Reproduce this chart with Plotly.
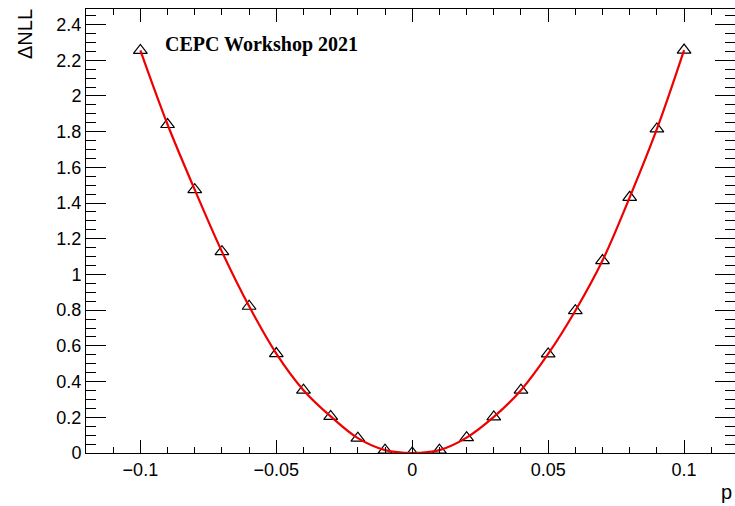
import plotly.graph_objects as go

# Data
p_values = [-0.10, -0.09, -0.08, -0.07, -0.06, -0.05, -0.04, -0.03, -0.02, -0.01,
            0.00, 0.01, 0.02, 0.03, 0.04, 0.05, 0.06, 0.07, 0.08, 0.09, 0.10]
dnll_values = [2.255, 1.840, 1.475, 1.128, 0.822, 0.557, 0.352, 0.205, 0.083, 0.016,
               0.000, 0.016, 0.086, 0.202, 0.352, 0.555, 0.797, 1.078, 1.432, 1.815, 2.257]

x_range = [-0.12, 0.11873]
y_range = [0.0, 2.487]

W, H = 735, 506
ML, MR, MT, MB = 86, 0, 9, 53

fig = go.Figure()

# markers (open triangles)
fig.add_trace(go.Scatter(
    x=p_values, y=dnll_values, mode="markers",
    marker=dict(symbol="triangle-up-open", size=12, color="black",
                line=dict(width=1.2, color="black")),
    hoverinfo="skip", showlegend=False))

# smooth red curve
fig.add_trace(go.Scatter(
    x=p_values, y=dnll_values, mode="lines",
    line=dict(color="#ee0000", width=2.2, shape="spline", smoothing=1.0),
    hoverinfo="skip", showlegend=False))

# invisible trace for the mirrored (top/right) axes
fig.add_trace(go.Scatter(
    x=p_values, y=dnll_values, mode="markers", xaxis="x2", yaxis="y2",
    marker=dict(opacity=0), hoverinfo="skip", showlegend=False))

tickfont = dict(family="Liberation Sans, Arial, sans-serif", size=18, color="black")

fig.update_layout(
    width=W, height=H,
    margin=dict(l=ML, r=MR, t=MT, b=MB, pad=0),
    paper_bgcolor="white", plot_bgcolor="white",
    xaxis=dict(
        range=x_range, tickmode="linear", tick0=0, dtick=0.05,
        ticks="inside", ticklen=13, tickwidth=1, tickcolor="black",
        showline=True, linecolor="black", linewidth=1,
        showgrid=False, zeroline=False, tickfont=tickfont,
        minor=dict(tickmode="linear", tick0=0, dtick=0.01, ticks="inside",
                   ticklen=6, tickwidth=1, tickcolor="black", showgrid=False),
    ),
    xaxis2=dict(
        range=x_range, overlaying="x", side="top", matches="x",
        tickmode="linear", tick0=0, dtick=0.05,
        ticks="inside", ticklen=13, tickwidth=1, tickcolor="black",
        showline=True, linecolor="black", linewidth=1,
        showgrid=False, zeroline=False, showticklabels=False,
        minor=dict(tickmode="linear", tick0=0, dtick=0.01, ticks="inside",
                   ticklen=6, tickwidth=1, tickcolor="black", showgrid=False),
    ),
    yaxis=dict(
        range=y_range, tickmode="linear", tick0=0, dtick=0.2,
        ticks="inside", ticklen=20, tickwidth=1, tickcolor="black",
        showline=True, linecolor="black", linewidth=1,
        showgrid=False, zeroline=False, tickfont=tickfont,
        minor=dict(tickmode="linear", tick0=0, dtick=0.05, ticks="inside",
                   ticklen=10, tickwidth=1, tickcolor="black", showgrid=False),
    ),
    yaxis2=dict(
        range=y_range, overlaying="y", side="right", matches="y",
        tickmode="linear", tick0=0, dtick=0.2,
        ticks="inside", ticklen=20, tickwidth=1, tickcolor="black",
        showline=False, showgrid=False, zeroline=False, showticklabels=False,
        minor=dict(tickmode="linear", tick0=0, dtick=0.05, ticks="inside",
                   ticklen=10, tickwidth=1, tickcolor="black", showgrid=False),
    ),
    annotations=[
        dict(text="<b>CEPC Workshop 2021</b>", xref="paper", yref="paper",
             x=(163 - ML) / (W - ML - MR), y=(H - MB - 45) / (H - MT - MB),
             xanchor="left", yanchor="middle", showarrow=False,
             font=dict(family="Liberation Serif, Times New Roman, serif", size=20, color="black")),
        dict(text="ΔNLL", xref="paper", yref="paper", textangle=-90,
             x=(25 - ML) / (W - ML - MR), y=(H - MB - 7) / (H - MT - MB),
             xanchor="center", yanchor="top", showarrow=False,
             font=dict(family="Liberation Sans, Arial, sans-serif", size=20, color="black")),
        dict(text="p", xref="paper", yref="paper",
             x=(734 - ML) / (W - ML - MR), y=(H - MB - 505) / (H - MT - MB),
             xanchor="right", yanchor="bottom", showarrow=False,
             font=dict(family="Liberation Sans, Arial, sans-serif", size=20, color="black")),
    ],
)

fig.write_html("out.html")
